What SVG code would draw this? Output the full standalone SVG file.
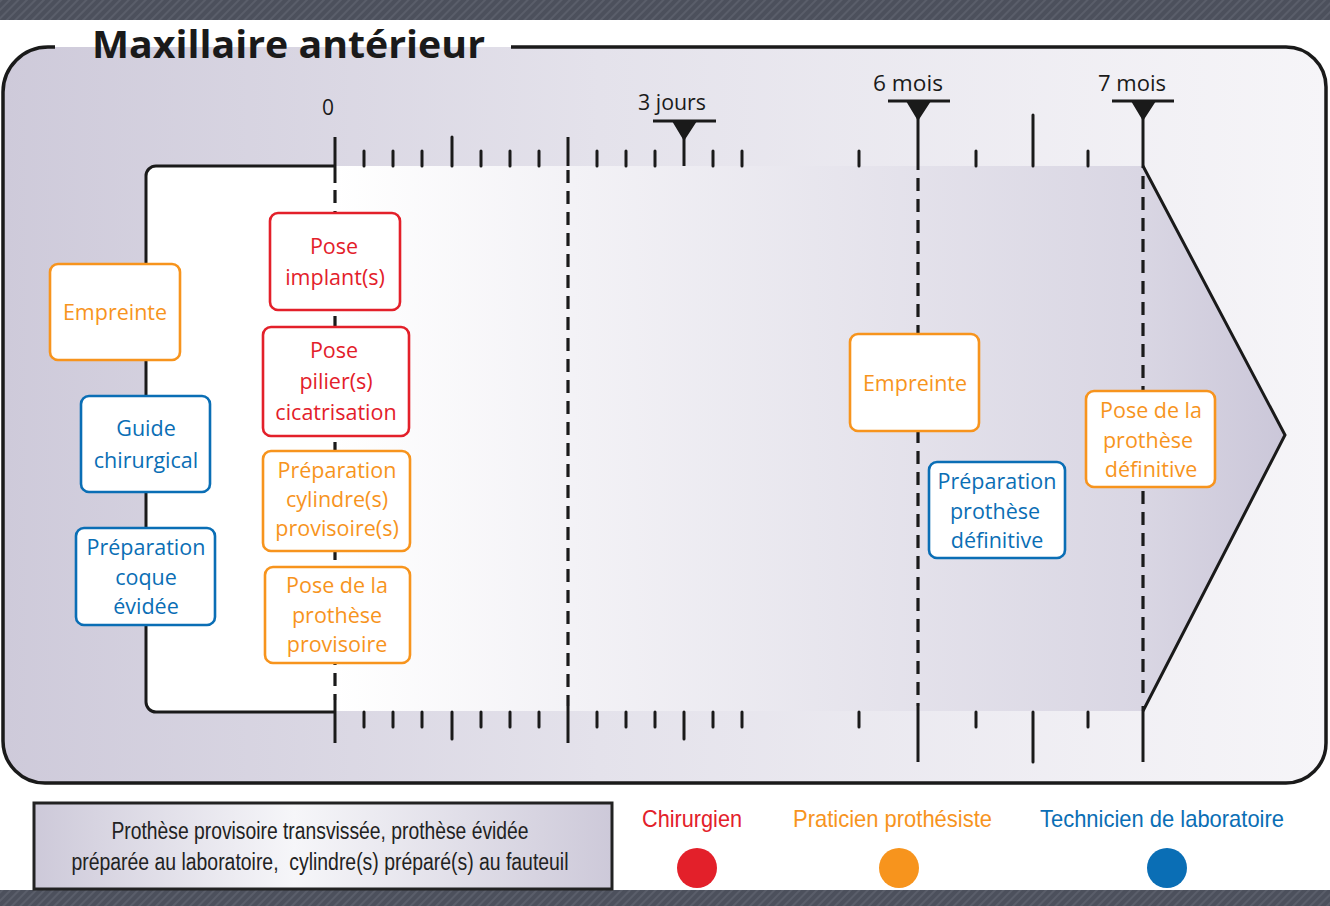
<svg xmlns="http://www.w3.org/2000/svg" width="1330" height="906" viewBox="0 0 1330 906">
<style>
.box{fill:#fff;stroke-width:2.6}
.or{stroke:#f7941d}.rd{stroke:#e3202a}.bl{stroke:#0a6eb5}
.t{font-family:"Open Sans","Noto Sans",sans-serif;font-size:21.5px;text-anchor:middle}
.to{fill:#f7941d}.tr{fill:#e3202a}.tb{fill:#0a6eb5}
.tick{stroke:#1a1a1a;stroke-width:3;stroke-linecap:round}
.ln{stroke:#1a1a1a;stroke-width:3;fill:none}
.dash{stroke:#1a1a1a;stroke-width:3.2;stroke-dasharray:13 8;fill:none}
.lab{font-family:"Open Sans","Noto Sans",sans-serif;font-size:21px;fill:#1a1a1a;text-anchor:middle}
.leg{font-family:"Liberation Sans",Arial,sans-serif;font-size:24px}
</style>
<defs>
<pattern id="tex" width="6" height="6" patternUnits="userSpaceOnUse" patternTransform="rotate(45)">
<rect width="6" height="6" fill="#4c505c"/>
<rect width="2" height="6" fill="#5a5e6a"/>
</pattern>
<linearGradient id="bg" x1="0" y1="0" x2="1" y2="0">
<stop offset="0" stop-color="#cecada"/>
<stop offset="0.45" stop-color="#e4e2eb"/>
<stop offset="1" stop-color="#f6f5f8"/>
</linearGradient>
<linearGradient id="arr" gradientUnits="userSpaceOnUse" x1="335" y1="0" x2="1285" y2="0">
<stop offset="0" stop-color="#ffffff"/>
<stop offset="0.25" stop-color="#f3f2f6"/>
<stop offset="0.85" stop-color="#d9d6e3"/>
<stop offset="1" stop-color="#cbc7d9"/>
</linearGradient>
<linearGradient id="lg" x1="0" y1="0" x2="1" y2="0">
<stop offset="0" stop-color="#cdc9d9"/>
<stop offset="0.45" stop-color="#f6f6f9"/>
<stop offset="1" stop-color="#cdc9d9"/>
</linearGradient>
</defs>

<rect width="1330" height="906" fill="#fff"/>
<rect x="0" y="0" width="1330" height="20" fill="url(#tex)"/>
<rect x="0" y="890" width="1330" height="16" fill="url(#tex)"/>

<!-- main panel -->
<rect x="3" y="47" width="1323" height="736" rx="42" fill="url(#bg)"/>
<path d="M511 47 H1286 A40 40 0 0 1 1326 87 V743 A40 40 0 0 1 1286 783 H45 A42 42 0 0 1 3 741 V92 A45 45 0 0 1 48 47 H55" fill="none" stroke="#1a1a1a" stroke-width="3.5"/>
<text x="92" y="58" font-family="'Open Sans','Noto Sans',sans-serif" font-weight="bold" font-size="37" fill="#1a1a1a" textLength="393" lengthAdjust="spacingAndGlyphs">Maxillaire antérieur</text>

<!-- arrow body -->
<path d="M335 166 H1143 L1285 435 L1143 711 H335 Z" fill="url(#arr)"/>
<path d="M335 166 H156 A10 10 0 0 0 146 176 V702 A10 10 0 0 0 156 712 H335 Z" fill="#fff"/>
<path d="M335 166 H156 A10 10 0 0 0 146 176 V702 A10 10 0 0 0 156 712 H335" class="ln"/>
<path d="M1143 166 L1285 435 L1143 711" class="ln"/>

<g id="connectors">
<path d="M335 137 V183" class="ln"/>
<path d="M335 190 V700" class="dash"/>
<path d="M335 700 V743" class="ln"/>
<path d="M568 137 V166" class="ln"/>
<path d="M568 170 V706" class="dash"/>
<path d="M568 706 V743" class="ln"/>
<path d="M918 101 V170" class="ln"/>
<path d="M918 178 V706" class="dash"/>
<path d="M918 706 V762" class="ln"/>
<path d="M1143 101 V168" class="ln"/>
<path d="M1143 176 V700" class="dash"/>
<path d="M1143 706 V762" class="ln"/>
<path d="M684 121 V166" class="ln"/>
</g>

<g id="ticks">
<!-- top -->
<path class="tick" d="M364 151V166M393 151V166M422 151V166M452 137V166M481 151V166M510 151V166M539 151V166M597 151V166M626 151V166M655 151V166M713 151V166M742 151V166M859 151V166M976 151V166M1033 115V166M1088 151V166"/>
<!-- bottom -->
<path class="tick" d="M364 712V727M393 712V727M422 712V727M452 712V739M481 712V727M510 712V727M539 712V727M597 712V727M626 712V727M655 712V727M684 712V739M713 712V727M742 712V727M859 712V727M976 712V727M1033 712V762M1088 712V727"/>
</g>

<g id="markers">
<path d="M653 121 H716 M888 101 H950 M1112 101 H1174" class="ln"/>
<path d="M672 121 H697 L684 141 Z M906 101 H931 L918 121 Z M1131 101 H1156 L1143 121 Z" fill="#1a1a1a"/>
<text class="lab" x="328" y="115">0</text>
<text class="lab" x="672" y="110" textLength="68" lengthAdjust="spacingAndGlyphs">3 jours</text>
<text class="lab" x="908" y="91" textLength="70" lengthAdjust="spacingAndGlyphs">6 mois</text>
<text class="lab" x="1132" y="91" textLength="68" lengthAdjust="spacingAndGlyphs">7 mois</text>
</g>

<g id="n-empreinte1">
<rect class="box or" x="50" y="264" width="130" height="96" rx="8"/>
<text class="t to" x="115" y="320">Empreinte</text>
</g>
<g id="n-guide">
<rect class="box bl" x="81" y="396" width="129" height="96" rx="8"/>
<text class="t tb" x="146" y="436">Guide</text>
<text class="t tb" x="146" y="468">chirurgical</text>
</g>
<g id="n-coque">
<rect class="box bl" x="76" y="528" width="139" height="97" rx="8"/>
<text class="t tb" x="146" y="555">Préparation</text>
<text class="t tb" x="146" y="585">coque</text>
<text class="t tb" x="146" y="614">évidée</text>
</g>
<g id="n-implant">
<rect class="box rd" x="270" y="213" width="130" height="97" rx="8"/>
<text class="t tr" x="334" y="254">Pose</text>
<text class="t tr" x="335" y="285">implant(s)</text>
</g>
<g id="n-pilier">
<rect class="box rd" x="263" y="327" width="146" height="109" rx="8"/>
<text class="t tr" x="334" y="358">Pose</text>
<text class="t tr" x="336" y="389">pilier(s)</text>
<text class="t tr" x="336" y="420">cicatrisation</text>
</g>
<g id="n-cylindre">
<rect class="box or" x="263" y="451" width="147" height="100" rx="8"/>
<text class="t to" x="337" y="478">Préparation</text>
<text class="t to" x="337" y="507">cylindre(s)</text>
<text class="t to" x="337" y="536">provisoire(s)</text>
</g>
<g id="n-provisoire">
<rect class="box or" x="265" y="567" width="145" height="96" rx="8"/>
<text class="t to" x="337" y="593">Pose de la</text>
<text class="t to" x="337" y="623">prothèse</text>
<text class="t to" x="337" y="652">provisoire</text>
</g>
<g id="n-empreinte2">
<rect class="box or" x="850" y="334" width="129" height="97" rx="8"/>
<text class="t to" x="915" y="391">Empreinte</text>
</g>
<g id="n-prepdef">
<rect class="box bl" x="929" y="462" width="136" height="96" rx="8"/>
<text class="t tb" x="997" y="489">Préparation</text>
<text class="t tb" x="995" y="519">prothèse</text>
<text class="t tb" x="997" y="548">définitive</text>
</g>
<g id="n-posedef">
<rect class="box or" x="1086" y="391" width="129" height="96" rx="8"/>
<text class="t to" x="1151" y="418">Pose de la</text>
<text class="t to" x="1148" y="448">prothèse</text>
<text class="t to" x="1151" y="477">définitive</text>
</g>

<g id="legend">
<rect x="34" y="803" width="578" height="86" fill="url(#lg)" stroke="#222" stroke-width="3"/>
<text x="320" y="839" font-family="'Liberation Sans',Arial,sans-serif" font-size="23" fill="#222" text-anchor="middle" textLength="417" lengthAdjust="spacingAndGlyphs">Prothèse provisoire transvissée, prothèse évidée</text>
<text x="320" y="870" font-family="'Liberation Sans',Arial,sans-serif" font-size="23" fill="#222" text-anchor="middle" textLength="497" lengthAdjust="spacingAndGlyphs" xml:space="preserve">préparée au laboratoire,  cylindre(s) préparé(s) au fauteuil</text>
<text class="leg" x="642" y="827" fill="#e3202a" textLength="100" lengthAdjust="spacingAndGlyphs">Chirurgien</text>
<text class="leg" x="793" y="827" fill="#f7941d" textLength="199" lengthAdjust="spacingAndGlyphs">Praticien prothésiste</text>
<text class="leg" x="1040" y="827" fill="#0a6eb5" textLength="244" lengthAdjust="spacingAndGlyphs">Technicien de laboratoire</text>
<circle cx="697" cy="868" r="20" fill="#e3202a"/>
<circle cx="899" cy="868" r="20" fill="#f7941d"/>
<circle cx="1167" cy="868" r="20" fill="#0a6eb5"/>
</g>
</svg>
